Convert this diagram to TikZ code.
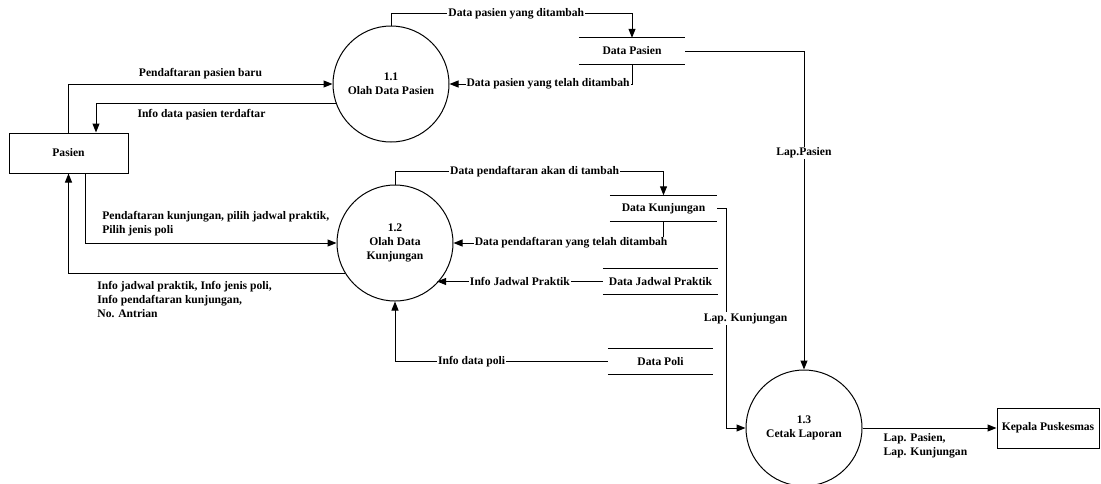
\documentclass[tikz,border=0pt]{standalone}
\usepackage{fontspec}
\setmainfont{Liberation Serif}
\usetikzlibrary{arrows.meta}

\begin{document}
\begin{tikzpicture}[x=1pt, y=-1pt,
    every node/.style={font=\bfseries\fontsize{11.6}{14}\selectfont},
    proc/.style={draw, circle, line width=1pt, minimum size=116pt, align=center, inner sep=0pt},
    entity/.style={draw, line width=1pt, minimum height=40pt, inner sep=0pt},
    store/.style={minimum height=26pt, inner sep=0pt},
    flow/.style={line width=1pt, -{Triangle[length=9pt, width=7pt]}},
    lbl/.style={fill=white, inner sep=1pt}]
    \useasboundingbox (0,0) rectangle (1101,483);

    % Entities
    \node[entity, minimum width=119pt] (pasien) at (68.5,153) {Pasien};
    \node[entity, minimum width=102pt] (kp) at (1048,428) {Kepala Puskesmas};

    % Processes
    \node[proc] (c11) at (391,84) {1.1\\Olah Data Pasien};
    \node[proc] (c12) at (395,243) {1.2\\Olah Data\\Kunjungan};
    \node[proc] (c13) at (804,428) {1.3\\Cetak Laporan};

    % Data stores
    \node[store, minimum width=106pt] (dp) at (632,51) {Data Pasien};
    \node[store, minimum width=107pt] (dk) at (663.5,208.5) {Data Kunjungan};
    \node[store, minimum width=115pt] (dj) at (660.5,281.5) {Data Jadwal Praktik};
    \node[store, minimum width=105pt] (dpoli) at (660.5,361.5) {Data Poli};
    \foreach \s in {dp, dk, dj, dpoli} {
      \draw[line width=1pt] (\s.north west) -- (\s.north east);
      \draw[line width=1pt] (\s.south west) -- (\s.south east);
    }

    % Flows of process 1.1
    \draw[flow] (pasien.north) |- node[above, pos=0.75, yshift=1pt] {Pendaftaran pasien baru} (c11.west);
    \draw[flow] (c11.199) -| node[below, pos=0.28, yshift=-2pt] {Info data pasien terdaftar}
    ([xshift=27.5pt]pasien.north);
    \draw[flow] (c11.north) -- ++(0,-12) -| node[lbl, pos=0.26] {Data pasien yang ditambah} (dp.north);
    \draw[flow] (dp.south) |- node[lbl, pos=0.73] {Data pasien yang telah ditambah} (c11.east);

    % Flows of process 1.2
    \draw[flow] ([xshift=16.5pt]pasien.south) |- node[above, align=left, pos=0.76, yshift=3pt]
    {Pendaftaran kunjungan, pilih jadwal praktik,\\Pilih jenis poli} (c12.west);
    \draw[flow] (c12.211) -| node[below, align=left, pos=0.29, yshift=-4pt]
    {Info jadwal praktik, Info jenis poli,\\Info pendaftaran kunjungan,\\No. Antrian} (pasien.south);
    \draw[flow] (c12.north) -- ++(0,-13) -| node[lbl, pos=0.26] {Data pendaftaran akan di tambah} (dk.north);
    \draw[flow] (dk.south) |- node[lbl, pos=0.72] {Data pendaftaran yang telah ditambah} (c12.east);
    \draw[flow] (dj.west) -- node[lbl] {Info Jadwal Praktik} (c12.316 |- dj.west);
    \draw[flow] (dpoli.west) -| node[lbl, pos=0.32] {Info data poli} (c12.south);

    % Flows of process 1.3
    \draw[flow] (dp.east) -| node[lbl, pos=0.66] {Lap.Pasien} (c13.north);
    \draw[flow] (dk.east) -- ++(9.5,0) |- node[lbl, pos=0.25, xshift=19pt] {Lap. Kunjungan} (c13.west);
    \draw[flow] (c13.east) -- node[below, align=left, pos=0.47, yshift=-2pt] {Lap. Pasien,\\Lap. Kunjungan} (kp.west);
\end{tikzpicture}
\end{document}
